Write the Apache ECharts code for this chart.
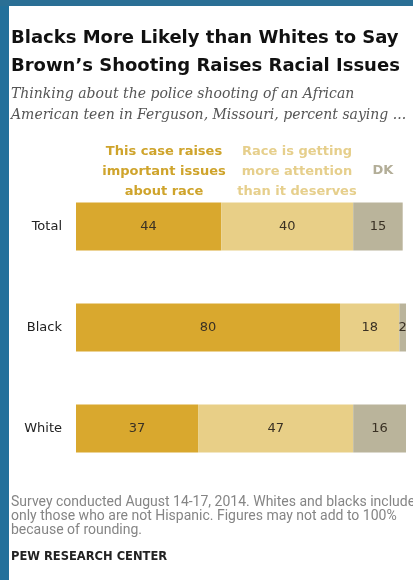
<!DOCTYPE html>
<html>
<head>
<meta charset="utf-8">
<script src="https://cdn.jsdelivr.net/npm/echarts@6/dist/echarts.min.js"></script>
<style>
  html, body { margin: 0; padding: 0; background: #fff; }
  #chart { width: 413px; height: 580px; }
</style>
</head>
<body>
<div id="chart"></div>
<script>
var categories = ['Total', 'Black', 'White'];
var raisesIssues = [44, 80, 37];
var moreAttention = [40, 18, 47];
var dontKnow = [15, 2, 16];
var seriesNames = ['This case raises\nimportant issues\nabout race', 'Race is getting\nmore attention\nthan it deserves', 'DK'];

var chart = echarts.init(document.getElementById('chart'));

function barSeries(name, data, color) {
	return {
		name: name,
		type: 'bar',
		stack: 'all',
		data: data,
		barWidth: 48,
		itemStyle: { color: color },
		label: {
			show: true,
			position: 'inside',
			color: '#3a3124',
			fontFamily: 'DejaVu Sans',
			fontSize: 13
		},
		emphasis: { disabled: true }
	};
}

var option = {
	animation: false,
	backgroundColor: '#ffffff',
	grid: {
		left: 76,
		width: 330,
		top: 176,
		height: 303
	},
	xAxis: {
		type: 'value',
		min: 0,
		max: 100,
		show: false
	},
	yAxis: {
		type: 'category',
		data: categories,
		inverse: true,
		axisLine: { show: false },
		axisTick: { show: false },
		axisLabel: {
			color: '#222',
			fontFamily: 'DejaVu Sans',
			fontSize: 13,
			margin: 14
		}
	},
	series: [
		barSeries(seriesNames[0], raisesIssues, '#d9a82e'),
		barSeries(seriesNames[1], moreAttention, '#e8cf87'),
		barSeries(seriesNames[2], dontKnow, '#bab49b')
	],
	graphic: [
		// blue frame around the slide
		{ type: 'rect', shape: { x: 0, y: 0, width: 9, height: 580 }, style: { fill: '#22709b' }, z: 10 },
		{ type: 'rect', shape: { x: 0, y: 0, width: 413, height: 6 }, style: { fill: '#2a6f95' }, z: 10 },
		{
			type: 'text', left: 11, top: 24,
			style: {
				text: 'Blacks More Likely than Whites to Say\nBrown\u2019s Shooting Raises Racial Issues',
				font: 'bold 18px "DejaVu Sans"',
				fill: '#111',
				lineHeight: 28
			}
		},
		{
			type: 'text', left: 11, top: 84,
			style: {
				text: 'Thinking about the police shooting of an African\nAmerican teen in Ferguson, Missouri, percent saying ...',
				font: 'italic 14px "DejaVu Serif"',
				fill: '#555',
				lineHeight: 21
			}
		},
		{
			type: 'text', x: 164, y: 142,
			style: {
				text: seriesNames[0],
				font: 'bold 13px "DejaVu Sans"',
				fill: '#cfa42c',
				align: 'center',
				lineHeight: 20
			}
		},
		{
			type: 'text', x: 297, y: 142,
			style: {
				text: seriesNames[1],
				font: 'bold 13px "DejaVu Sans"',
				fill: '#e6cf8c',
				align: 'center',
				lineHeight: 20
			}
		},
		{
			type: 'text', x: 383, y: 164,
			style: {
				text: seriesNames[2],
				font: 'bold 13px "DejaVu Sans"',
				fill: '#b3ae98',
				align: 'center'
			}
		},
		{
			type: 'text', left: 11, top: 495,
			style: {
				text: 'Survey conducted August 14-17, 2014. Whites and blacks include\nonly those who are not Hispanic. Figures may not add to 100%\nbecause of rounding.',
				font: '14px Roboto',
				fill: '#858585',
				lineHeight: 14
			}
		},
		{
			type: 'text', left: 11, top: 551,
			style: {
				text: 'PEW RESEARCH CENTER',
				font: 'bold 11.5px "DejaVu Sans"',
				fill: '#222'
			}
		}
	]
};

chart.setOption(option);
</script>
</body>
</html>
